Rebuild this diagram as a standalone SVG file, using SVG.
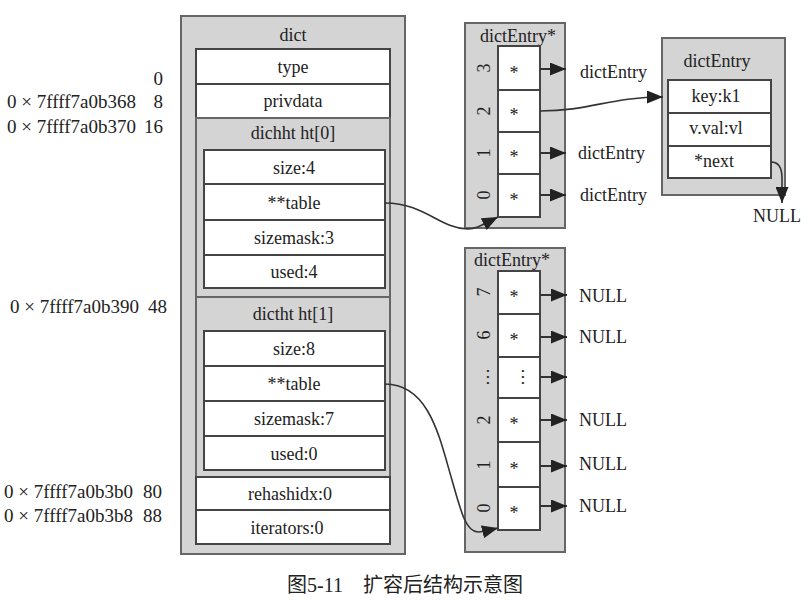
<svg xmlns="http://www.w3.org/2000/svg" width="808" height="600" viewBox="0 0 808 600">
<style>
text{font-family:"Liberation Serif","Noto Sans CJK SC",serif;font-size:18px;fill:#222}
.m{text-anchor:middle}
.e{text-anchor:end}
.o{font-size:19px}
.g{fill:#d4d4d4;stroke:#666;stroke-width:2}
.w{fill:#fff;stroke:#444;stroke-width:2}
.c{fill:none;stroke:#333;stroke-width:1.6}
.a{fill:none;stroke:#333;stroke-width:2}
</style>
<defs>
<marker id="ah" markerUnits="userSpaceOnUse" markerWidth="17" markerHeight="13" refX="16" refY="6.5" orient="auto">
<path d="M0,0 L16,6.5 L0,13 z" fill="#222"/>
</marker>
</defs>
<rect width="808" height="600" fill="#fff"/>

<g id="offsets">
<text x="163" y="85" class="e o">0</text>
<text x="7" y="108" class="o">0 × 7ffff7a0b368</text><text x="163" y="108" class="e o">8</text>
<text x="7" y="133" class="o">0 × 7ffff7a0b370</text><text x="163" y="133" class="e o">16</text>
<text x="10" y="313" class="o">0 × 7ffff7a0b390</text><text x="167" y="313" class="e o">48</text>
<text x="4" y="498" class="o">0 × 7ffff7a0b3b0</text><text x="162" y="498" class="e o">80</text>
<text x="4" y="522" class="o">0 × 7ffff7a0b3b8</text><text x="162" y="522" class="e o">88</text>
</g>

<g id="dict">
<rect x="181" y="16" width="224" height="538" class="g"/>
<text x="293" y="41" class="m">dict</text>
<rect x="196" y="49" width="194" height="35" class="w"/>
<text x="293" y="73" class="m">type</text>
<rect x="196" y="84" width="194" height="34" class="w"/>
<text x="293" y="107" class="m">privdata</text>
<g id="ht0">
<rect x="196" y="118" width="194" height="179" class="g"/>
<text x="293" y="139" class="m">dichht ht[0]</text>
<rect x="204" y="150" width="181" height="34" class="w"/>
<text x="294" y="174" class="m">size:4</text>
<rect x="204" y="184" width="181" height="36" class="w"/>
<text x="294" y="209" class="m">**table</text>
<rect x="204" y="220" width="181" height="35" class="w"/>
<text x="294" y="244" class="m">sizemask:3</text>
<rect x="204" y="255" width="181" height="33" class="w"/>
<text x="294" y="278" class="m">used:4</text>
</g>
<g id="ht1">
<rect x="196" y="297" width="194" height="180" class="g"/>
<text x="293" y="320" class="m">dictht ht[1]</text>
<rect x="204" y="331" width="181" height="35" class="w"/>
<text x="294" y="355" class="m">size:8</text>
<rect x="204" y="366" width="181" height="35" class="w"/>
<text x="294" y="390" class="m">**table</text>
<rect x="204" y="401" width="181" height="35" class="w"/>
<text x="294" y="425" class="m">sizemask:7</text>
<rect x="204" y="436" width="181" height="34" class="w"/>
<text x="294" y="460" class="m">used:0</text>
</g>
<rect x="196" y="477" width="194" height="33" class="w"/>
<text x="290" y="500" class="m">rehashidx:0</text>
<rect x="196" y="510" width="194" height="34" class="w"/>
<text x="287" y="534" class="m">iterators:0</text>
</g>

<g id="table0">
<rect x="465" y="23" width="100" height="205" class="g"/>
<text x="518" y="42" class="m">dictEntry*</text>
<rect x="498" y="46" width="42" height="44" class="w"/>
<rect x="498" y="90" width="42" height="42" class="w"/>
<rect x="498" y="132" width="42" height="42" class="w"/>
<rect x="498" y="174" width="42" height="43" class="w"/>
<text x="514" y="79" class="m">*</text>
<text x="514" y="121" class="m">*</text>
<text x="514" y="163" class="m">*</text>
<text x="514" y="206" class="m">*</text>
<text transform="translate(484,68) rotate(-90)" x="0" y="6" class="m">3</text>
<text transform="translate(484,111) rotate(-90)" x="0" y="6" class="m">2</text>
<text transform="translate(484,153) rotate(-90)" x="0" y="6" class="m">1</text>
<text transform="translate(484,195) rotate(-90)" x="0" y="6" class="m">0</text>
</g>

<g id="entry">
<rect x="662" y="38" width="123" height="157" class="g"/>
<text x="717" y="67" class="m">dictEntry</text>
<rect x="668" y="80" width="103" height="33" class="w"/>
<text x="716" y="102" class="m">key:k1</text>
<rect x="668" y="113" width="103" height="33" class="w"/>
<text x="716" y="134" class="m">v.val:vl</text>
<rect x="668" y="146" width="103" height="32" class="w"/>
<text x="714" y="167" class="m">*next</text>
</g>

<g id="table1">
<rect x="465" y="248" width="100" height="304" class="g"/>
<text x="512" y="266" class="m">dictEntry*</text>
<rect x="498" y="271" width="42" height="43" class="w"/>
<rect x="498" y="314" width="42" height="43" class="w"/>
<rect x="498" y="357" width="42" height="41" class="w"/>
<rect x="498" y="398" width="42" height="44" class="w"/>
<rect x="498" y="442" width="42" height="45" class="w"/>
<rect x="498" y="487" width="42" height="43" class="w"/>
<text x="514" y="303" class="m">*</text>
<text x="514" y="346" class="m">*</text>
<text transform="translate(519,377) rotate(-90)" x="0" y="5" class="m">…</text>
<text x="514" y="430" class="m">*</text>
<text x="514" y="475" class="m">*</text>
<text x="514" y="519" class="m">*</text>
<text transform="translate(484,292) rotate(-90)" x="0" y="6" class="m">7</text>
<text transform="translate(484,335) rotate(-90)" x="0" y="6" class="m">6</text>
<text transform="translate(484,377) rotate(-90)" x="0" y="5" class="m">…</text>
<text transform="translate(484,420) rotate(-90)" x="0" y="6" class="m">2</text>
<text transform="translate(484,465) rotate(-90)" x="0" y="6" class="m">1</text>
<text transform="translate(484,508) rotate(-90)" x="0" y="6" class="m">0</text>
</g>

<g id="labels">
<text x="580" y="78">dictEntry</text>
<text x="578" y="159">dictEntry</text>
<text x="580" y="201">dictEntry</text>
<text x="753" y="222">NULL</text>
<text x="579" y="302">NULL</text>
<text x="579" y="343">NULL</text>
<text x="579" y="426">NULL</text>
<text x="579" y="470">NULL</text>
<text x="579" y="512">NULL</text>
</g>

<g id="connectors">
<line x1="540" y1="69" x2="566" y2="69" class="a" marker-end="url(#ah)"/>
<line x1="540" y1="153" x2="566" y2="153" class="a" marker-end="url(#ah)"/>
<line x1="540" y1="195" x2="566" y2="195" class="a" marker-end="url(#ah)"/>
<path d="M540,111 C590,111 610,97 663,97" class="c" marker-end="url(#ah)"/>
<path d="M771,162 C779,162 782,168 782,178 L782,203" class="c" marker-end="url(#ah)"/>
<path d="M385,203 C425,203 440,229 468,229 C476,229 484,224 498,217" class="c" marker-end="url(#ah)"/>
<path d="M385,384 C430,384 440,440 452,480 C461,512 466,532 478,532 C484,532 490,530 498,528" class="c" marker-end="url(#ah)"/>
<line x1="540" y1="295" x2="567" y2="295" class="a" marker-end="url(#ah)"/>
<line x1="540" y1="337" x2="567" y2="337" class="a" marker-end="url(#ah)"/>
<line x1="540" y1="377" x2="567" y2="377" class="a" marker-end="url(#ah)"/>
<line x1="540" y1="420" x2="567" y2="420" class="a" marker-end="url(#ah)"/>
<line x1="540" y1="466" x2="567" y2="466" class="a" marker-end="url(#ah)"/>
<line x1="540" y1="506" x2="567" y2="506" class="a" marker-end="url(#ah)"/>
</g>

<text x="287" y="592" style="font-size:20px">图5-11　扩容后结构示意图</text>
</svg>
